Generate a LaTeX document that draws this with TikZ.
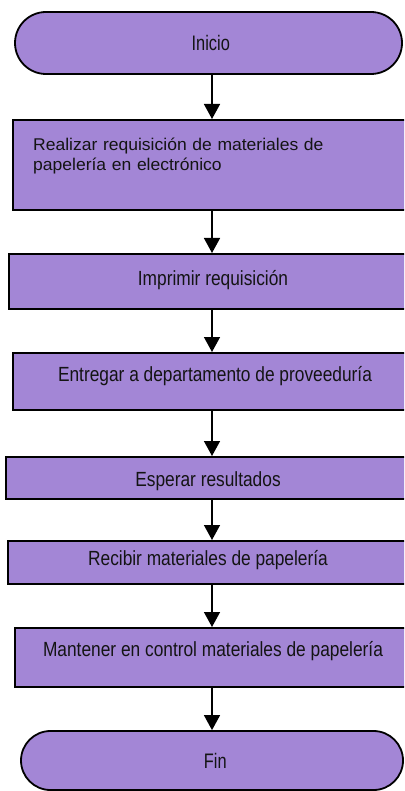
\documentclass[tikz,border=0pt]{standalone}
\usepackage{fontspec}
\setmainfont{Liberation Sans}
\newfontfamily\condA{Liberation Sans}[FakeStretch=0.845]
\newfontfamily\condB{Liberation Sans}[FakeStretch=0.78]
\newfontfamily\wideA{Liberation Sans}[FakeStretch=1.03]
\usetikzlibrary{arrows.meta,shapes.misc}
\definecolor{boxfill}{RGB}{163,134,214}
\definecolor{ink}{RGB}{20,20,20}
\begin{document}
\begin{tikzpicture}[x=1pt,y=-1pt,
  procbox/.style={draw=black, line width=1.8pt, fill=boxfill, rectangle, inner sep=0pt, anchor=north west},
  termbox/.style={draw=black, line width=1.8pt, fill=boxfill, rounded rectangle, inner sep=0pt, anchor=center},
  flow/.style={-{Triangle[width=16pt,length=15pt]}, line width=1.5pt, draw=black},
  lblA/.style={inner sep=0pt, anchor=base, text=ink, font=\condA\fontsize{20.5}{24}\selectfont},
  lblB/.style={inner sep=0pt, anchor=base, text=ink, font=\condB\fontsize{21}{24}\selectfont}]
\useasboundingbox (0,0) rectangle (404,791);
\clip (0,0) rectangle (404,791);
\coordinate (ax) at (212,0);
% shapes
\node[termbox, minimum width=387pt, minimum height=62pt] (inicio) at (208.5,43) {};
\node[procbox, minimum width=410pt, minimum height=90pt] (b1) at (12,119) {};
\node[procbox, minimum width=414pt, minimum height=55pt] (b2) at (8,253) {};
\node[procbox, minimum width=410pt, minimum height=57pt] (b3) at (12,352) {};
\node[procbox, minimum width=417pt, minimum height=42pt] (b4) at (5,456) {};
\node[procbox, minimum width=415pt, minimum height=43pt] (b5) at (7,540) {};
\node[procbox, minimum width=408pt, minimum height=59pt] (b6) at (14,627) {};
\node[termbox, minimum width=382pt, minimum height=59pt] (fin) at (212,760.5) {};
% texts
\node[lblB] (t0) at (210.8,50.7) {Inicio};
\node[inner sep=0pt, anchor=base west, text width=350pt, align=left, text=ink,
      font=\wideA\fontsize{17}{20}\selectfont] (t1) at (33,151)
      {Realizar requisición de materiales de\\papelería en electrónico};
\node[lblA] (t2) at (213,285) {Imprimir requisición};
\node[lblA] (t3) at (215,381) {Entregar a departamento de proveeduría};
\node[lblA] (t4) at (208,486.7) {Esperar resultados};
\node[lblA] (t5) at (208,565) {Recibir materiales de papelería};
\node[lblA] (t6) at (213,656.7) {Mantener en control materiales de papelería};
\node[lblB] (t7) at (215.3,768.3) {Fin};
% connectors
\draw[flow] (inicio.south -| ax) -- (b1.north -| ax);
\draw[flow] (b1.south -| ax) -- (b2.north -| ax);
\draw[flow] (b2.south -| ax) -- (b3.north -| ax);
\draw[flow] (b3.south -| ax) -- (b4.north -| ax);
\draw[flow] (b4.south -| ax) -- (b5.north -| ax);
\draw[flow] (b5.south -| ax) -- (b6.north -| ax);
\draw[flow] (b6.south -| ax) -- (fin.north -| ax);
\end{tikzpicture}
\end{document}
